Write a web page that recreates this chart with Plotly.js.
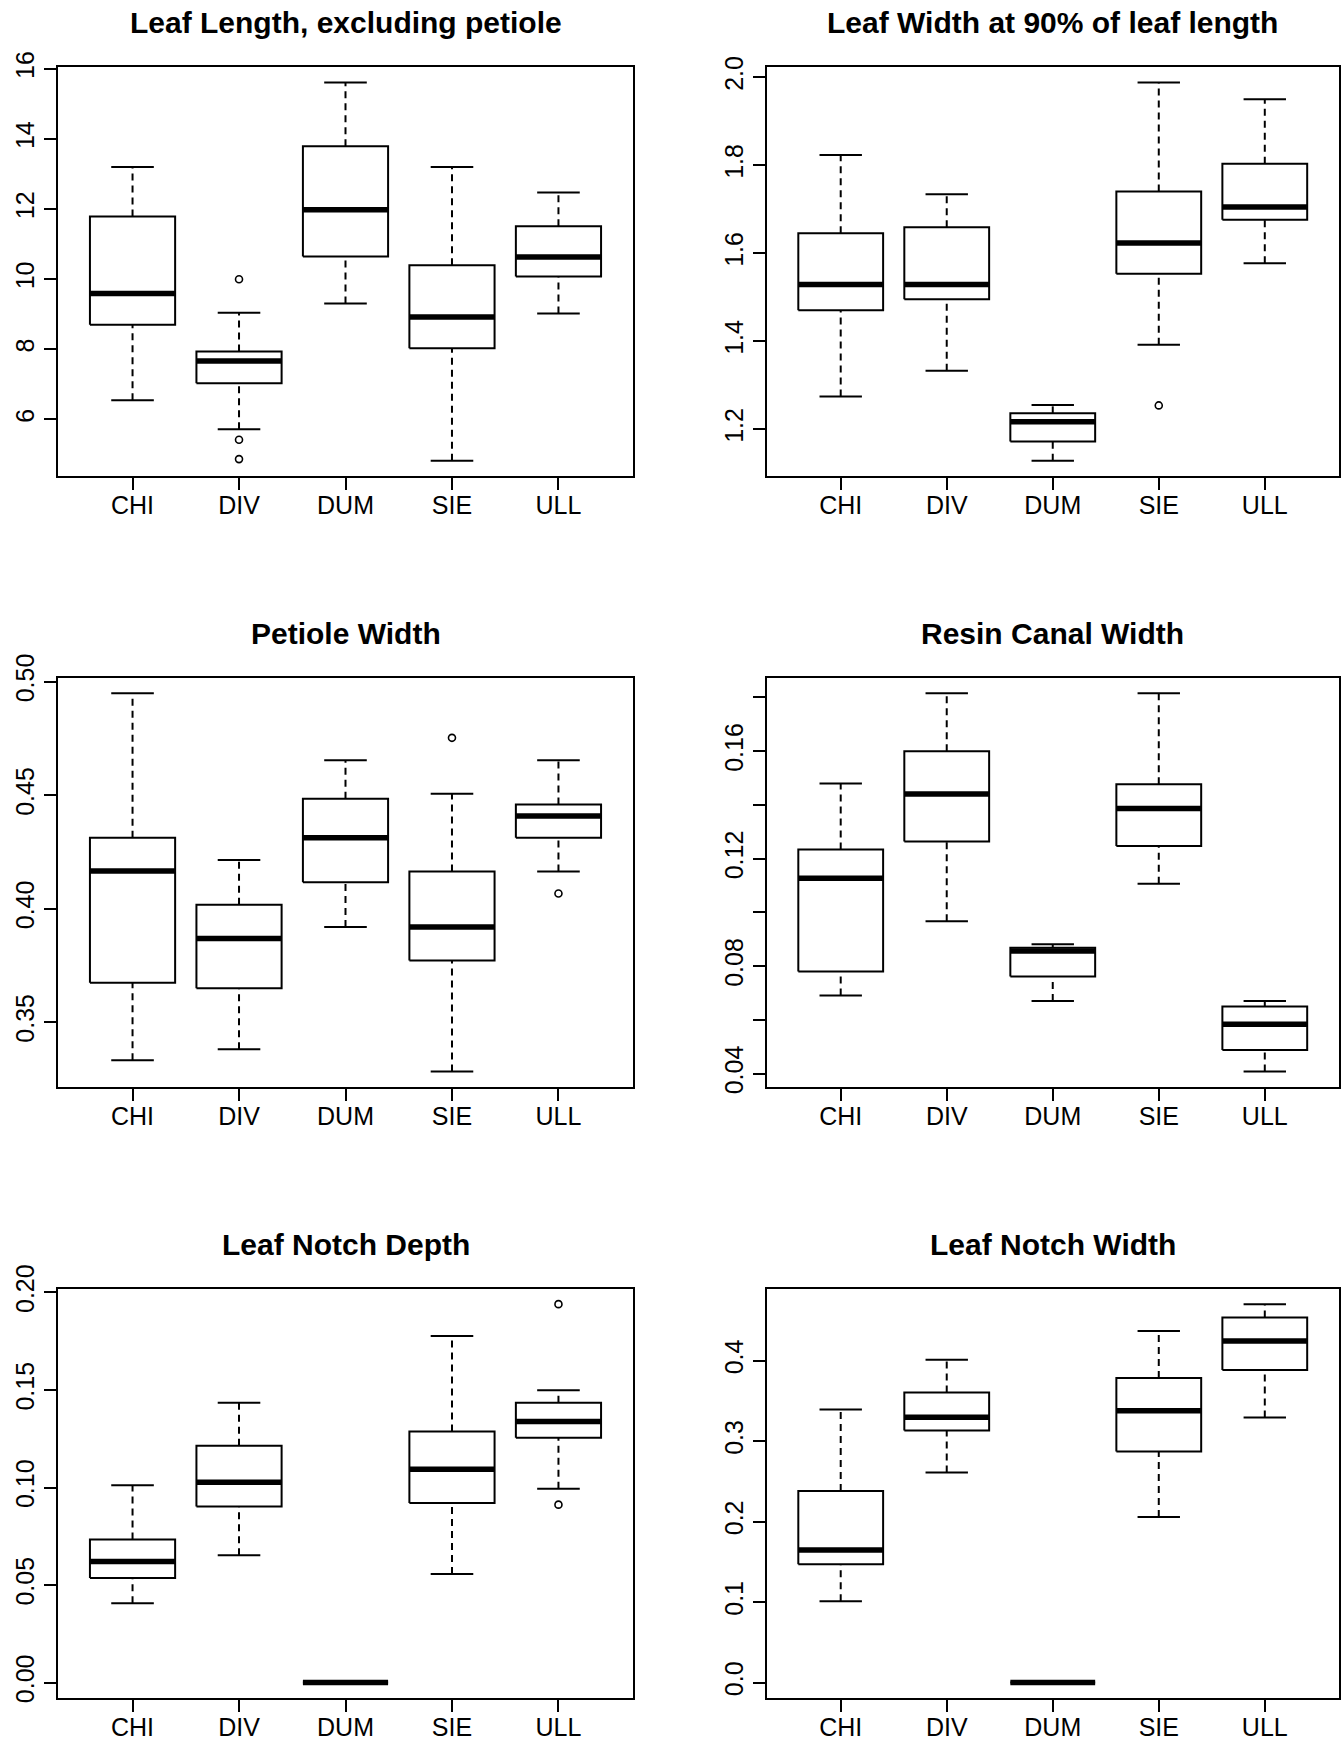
<!DOCTYPE html>
<html>
<head>
<meta charset="utf-8">
<script src="https://cdn.plot.ly/plotly-3.0.1.min.js"></script>
<style>
  html, body { margin: 0; padding: 0; background: #fff; }
  #chart { width: 1342px; height: 1741px; }
</style>
</head>
<body>
<div id="chart"></div>
<script>
// ---------- data ----------
const categories = ['CHI', 'DIV', 'DUM', 'SIE', 'ULL'];

// Panel 1: Leaf Length, excluding petiole
const lenTitle = 'Leaf Length, excluding petiole';
const lenLower = [6.55, 5.72, 9.31, 4.82, 9.02];
const lenQ1    = [8.70, 7.03, 10.65, 8.03, 10.08];
const lenMed   = [9.59, 7.67, 11.98, 8.92, 10.63];
const lenQ3    = [11.79, 7.94, 13.79, 10.40, 11.51];
const lenUpper = [13.20, 9.04, 15.61, 13.20, 12.47];
const lenOutCat = ['DIV', 'DIV', 'DIV'];
const lenOutVal = [10.0, 5.42, 4.87];
const lenTicks  = [6, 8, 10, 12, 14, 16];
const lenTickText = ['6', '8', '10', '12', '14', '16'];

// Panel 2: Leaf Width at 90% of leaf length
const widTitle = 'Leaf Width at 90% of leaf length';
const widLower = [1.274, 1.333, 1.128, 1.392, 1.577];
const widQ1    = [1.470, 1.495, 1.172, 1.553, 1.676];
const widMed   = [1.529, 1.529, 1.217, 1.623, 1.705];
const widQ3    = [1.645, 1.659, 1.236, 1.740, 1.803];
const widUpper = [1.823, 1.734, 1.255, 1.988, 1.950];
const widOutCat = ['SIE'];
const widOutVal = [1.254];
const widTicks  = [1.2, 1.4, 1.6, 1.8, 2.0];
const widTickText = ['1.2', '1.4', '1.6', '1.8', '2.0'];

// Panel 3: Petiole Width
const petTitle = 'Petiole Width';
const petLower = [0.3332, 0.3380, 0.3919, 0.3282, 0.4164];
const petQ1    = [0.3674, 0.3649, 0.4116, 0.3771, 0.4313];
const petMed   = [0.4166, 0.3869, 0.4313, 0.3919, 0.4408];
const petQ3    = [0.4313, 0.4017, 0.4484, 0.4164, 0.4459];
const petUpper = [0.4950, 0.4214, 0.4654, 0.4507, 0.4654];
const petOutCat = ['SIE', 'ULL'];
const petOutVal = [0.4753, 0.4067];
const petTicks  = [0.35, 0.40, 0.45, 0.50];
const petTickText = ['0.35', '0.40', '0.45', '0.50'];

// Panel 4: Resin Canal Width
const resTitle = 'Resin Canal Width';
const resLower = [0.0691, 0.0967, 0.0671, 0.1107, 0.0408];
const resQ1    = [0.0780, 0.1264, 0.0762, 0.1247, 0.0488];
const resMed   = [0.1127, 0.1441, 0.0857, 0.1387, 0.0584];
const resQ3    = [0.1234, 0.1600, 0.0869, 0.1477, 0.0650];
const resUpper = [0.1480, 0.1816, 0.0882, 0.1816, 0.0671];
const resOutCat = [];
const resOutVal = [];
const resTicks  = [0.04, 0.06, 0.08, 0.10, 0.12, 0.14, 0.16, 0.18];
const resTickText = ['0.04', '', '0.08', '', '0.12', '', '0.16', ''];

// Panel 5: Leaf Notch Depth
const ndTitle = 'Leaf Notch Depth';
const ndLower = [0.0407, 0.0653, 0, 0.0556, 0.0993];
const ndQ1    = [0.0536, 0.0903, 0, 0.0920, 0.1255];
const ndMed   = [0.0620, 0.1027, 0, 0.1094, 0.1338];
const ndQ3    = [0.0733, 0.1214, 0, 0.1287, 0.1434];
const ndUpper = [0.1011, 0.1435, 0, 0.1777, 0.1499];
const ndOutCat = ['ULL', 'ULL'];
const ndOutVal = [0.194, 0.0912];
const ndTicks  = [0.00, 0.05, 0.10, 0.15, 0.20];
const ndTickText = ['0.00', '0.05', '0.10', '0.15', '0.20'];

// Panel 6: Leaf Notch Width
const nwTitle = 'Leaf Notch Width';
const nwLower = [0.1012, 0.2611, 0, 0.2058, 0.3293];
const nwQ1    = [0.1470, 0.3134, 0, 0.2872, 0.3884];
const nwMed   = [0.1646, 0.3297, 0, 0.3378, 0.4244];
const nwQ3    = [0.2380, 0.3606, 0, 0.3786, 0.4536];
const nwUpper = [0.3395, 0.4013, 0, 0.4369, 0.4703];
const nwOutCat = [];
const nwOutVal = [];
const nwTicks  = [0.0, 0.1, 0.2, 0.3, 0.4];
const nwTickText = ['0.0', '0.1', '0.2', '0.3', '0.4'];

// ---------- assembly ----------
const panels = [
  {title: lenTitle, lo: lenLower, q1: lenQ1, md: lenMed, q3: lenQ3, hi: lenUpper, oc: lenOutCat, ov: lenOutVal, tv: lenTicks, tt: lenTickText},
  {title: widTitle, lo: widLower, q1: widQ1, md: widMed, q3: widQ3, hi: widUpper, oc: widOutCat, ov: widOutVal, tv: widTicks, tt: widTickText},
  {title: petTitle, lo: petLower, q1: petQ1, md: petMed, q3: petQ3, hi: petUpper, oc: petOutCat, ov: petOutVal, tv: petTicks, tt: petTickText},
  {title: resTitle, lo: resLower, q1: resQ1, md: resMed, q3: resQ3, hi: resUpper, oc: resOutCat, ov: resOutVal, tv: resTicks, tt: resTickText},
  {title: ndTitle, lo: ndLower, q1: ndQ1, md: ndMed, q3: ndQ3, hi: ndUpper, oc: ndOutCat, ov: ndOutVal, tv: ndTicks, tt: ndTickText},
  {title: nwTitle, lo: nwLower, q1: nwQ1, md: nwMed, q3: nwQ3, hi: nwUpper, oc: nwOutCat, ov: nwOutVal, tv: nwTicks, tt: nwTickText}
];

const W = 1342, H = 1741;
const colLeft = [[58, 633], [766.5, 1339]];
const rowTop = [67.3, 678, 1289];
const plotH = 408.7;
const BOXW = 0.8, CAPW = 0.4;
const FONT = '"Liberation Sans", Arial, Helvetica, sans-serif';

const traces = [];
const layout = {
  width: W, height: H,
  margin: {l: 0, r: 0, t: 0, b: 0},
  paper_bgcolor: '#ffffff', plot_bgcolor: '#ffffff',
  showlegend: false,
  font: {family: FONT, color: '#000000'},
  annotations: []
};

panels.forEach((p, k) => {
  const col = k % 2, row = Math.floor(k / 2);
  const sfx = k === 0 ? '' : String(k + 1);
  const xa = 'x' + sfx, ya = 'y' + sfx;
  const pos = categories.map((c, i) => i + 1);
  const idx = c => categories.indexOf(c) + 1;

  const wx = [], wy = [];
  const cx = [], cy = [], bx = [], by = [], mx = [], my = [];
  pos.forEach((xv, i) => {
    wx.push(xv, xv, null, xv, xv, null);
    wy.push(p.q3[i], p.hi[i], null, p.lo[i], p.q1[i], null);
    cx.push(xv - CAPW / 2, xv + CAPW / 2, null, xv - CAPW / 2, xv + CAPW / 2, null);
    cy.push(p.hi[i], p.hi[i], null, p.lo[i], p.lo[i], null);
    bx.push(xv - BOXW / 2, xv + BOXW / 2, xv + BOXW / 2, xv - BOXW / 2, xv - BOXW / 2, null);
    by.push(p.q1[i], p.q1[i], p.q3[i], p.q3[i], p.q1[i], null);
    mx.push(xv - BOXW / 2, xv + BOXW / 2, null);
    my.push(p.md[i], p.md[i], null);
  });
  const common = {xaxis: xa, yaxis: ya, hoverinfo: 'skip', cliponaxis: false};
  traces.push(Object.assign({type: 'scatter', mode: 'lines', x: wx, y: wy,
    line: {color: '#000', width: 2, dash: '7px,5px'}}, common));
  traces.push(Object.assign({type: 'scatter', mode: 'lines', x: cx, y: cy,
    line: {color: '#000', width: 2}}, common));
  traces.push(Object.assign({type: 'scatter', mode: 'lines', x: bx, y: by,
    line: {color: '#000', width: 2}}, common));
  traces.push(Object.assign({type: 'scatter', mode: 'lines', x: mx, y: my,
    line: {color: '#000', width: 5.5}}, common));
  if (p.ov.length) {
    traces.push(Object.assign({type: 'scatter', mode: 'markers',
      x: p.oc.map(idx), y: p.ov,
      marker: {symbol: 'circle-open', size: 7, color: '#000', line: {width: 1.6, color: '#000'}}}, common));
  }

  // R-style range: data range extended by 4%
  const all = p.lo.concat(p.hi, p.ov);
  const mn = Math.min.apply(null, all), mxv = Math.max.apply(null, all);
  const ext = (mxv - mn) * 0.04;

  const x0 = colLeft[col][0], x1 = colLeft[col][1];
  const top = rowTop[row], bot = rowTop[row] + plotH;

  layout['xaxis' + sfx] = {
    domain: [x0 / W, x1 / W],
    anchor: ya,
    range: [0.3, 5.7],
    tickmode: 'array', tickvals: pos, ticktext: categories,
    ticks: 'outside', ticklen: 12, tickwidth: 2, tickcolor: '#000',
    ticklabelstandoff: -6,
    showline: true, linewidth: 2, linecolor: '#000', mirror: true,
    showgrid: false, zeroline: false, fixedrange: true,
    tickfont: {family: FONT, size: 25, color: '#000'}
  };
  layout['yaxis' + sfx] = {
    domain: [1 - bot / H, 1 - top / H],
    anchor: xa,
    range: [mn - ext, mxv + ext],
    tickmode: 'array', tickvals: p.tv, ticktext: p.tt,
    tickangle: -90,
    ticks: 'outside', ticklen: 12, tickwidth: 2, tickcolor: '#000',
    showline: true, linewidth: 2, linecolor: '#000', mirror: true,
    showgrid: false, zeroline: false, fixedrange: true,
    tickfont: {family: FONT, size: 25, color: '#000'}
  };
  layout.annotations.push({
    xref: xa + ' domain', yref: ya + ' domain', x: 0.5, y: 1,
    xanchor: 'center', yanchor: 'middle', yshift: 45,
    showarrow: false, text: '<b>' + p.title + '</b>',
    font: {family: FONT, size: 30, color: '#000'}
  });
});

Plotly.newPlot('chart', traces, layout, {staticPlot: true, displayModeBar: false});
</script>
</body>
</html>
